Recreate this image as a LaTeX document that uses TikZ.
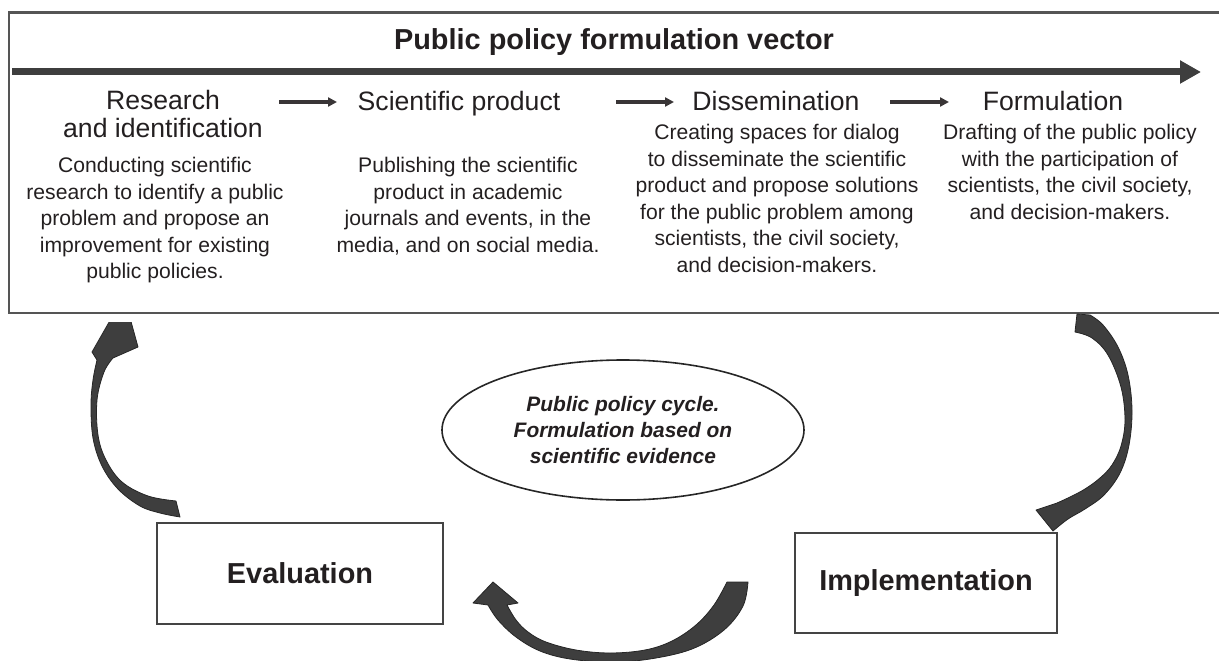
\documentclass[tikz,border=0pt]{standalone}
\usepackage{fontspec}
\setmainfont{Liberation Sans}
\usetikzlibrary{arrows.meta,shapes.geometric}

\definecolor{ink}{HTML}{231F20}
\definecolor{frameline}{HTML}{555555}
\definecolor{boxline}{HTML}{444444}
\definecolor{arrowfill}{HTML}{3E3E3E}
\definecolor{arrowedge}{HTML}{262626}

\tikzset{
  titletext/.style={font=\bfseries\fontsize{29}{34}\selectfont, text=ink,
    inner sep=0pt, anchor=base},
  headtext/.style={font=\fontsize{26.7}{28}\selectfont, text=ink,
    inner sep=0pt, align=center, anchor=north, execute at begin node=\strut},
  bodytext/.style={font=\fontsize{21.2}{26.6}\selectfont, text=ink,
    inner sep=0pt, align=center, anchor=north, execute at begin node=\strut},
  stagebox/.style={draw=boxline, line width=2bp, fill=white, text=ink,
    font=\bfseries\fontsize{29}{34}\selectfont, inner sep=0pt},
  cyclenote/.style={ellipse, draw=black!85, line width=1.6bp, text=ink,
    font=\bfseries\itshape\fontsize{21}{26.5}\selectfont, align=center,
    inner sep=0pt, minimum width=362bp, minimum height=140bp},
  vectorarrow/.style={draw=arrowfill, line width=7bp,
    -{Triangle[length=21bp,width=22bp]}},
  steparrow/.style={draw=ink!90, line width=3.2bp,
    -{Triangle[length=9bp,width=9bp]}},
  framestroke/.style={draw=frameline, line width=2.4bp},
  curvedarrow/.style={fill=arrowfill, draw=arrowedge, line width=0.8bp,
    line join=round},
}

\begin{document}
\begin{tikzpicture}[x=1bp,y=-1bp]
\useasboundingbox (0,0) rectangle (1219,661);

% frame of the formulation vector (open on the right)
\draw[framestroke] (1230,12.5) -- (9,12.5) -- (9,313) -- (1230,313);

% title and the long vector arrow
\node[titletext] (title) at (614,50) {Public policy formulation vector};
\coordinate (vstart) at (12,72);
\coordinate (vend) at (1201,72);
\draw[vectorarrow] (vstart) -- (vend);

% stage headings
\node[headtext] (h1) at (163,90.4) {Research\\and identification};
\node[headtext] (h2) at (459,90.4) {Scientific product};
\node[headtext] (h3) at (776,90.4) {Dissemination};
\node[headtext] (h4) at (1053,90.4) {Formulation};

% arrows between headings
\coordinate (a1s) at (279,102); \coordinate (a1e) at (337,102);
\coordinate (a2s) at (616,102); \coordinate (a2e) at (674,102);
\coordinate (a3s) at (890,102); \coordinate (a3e) at (949,102);
\draw[steparrow] (a1s) -- (a1e);
\draw[steparrow] (a2s) -- (a2e);
\draw[steparrow] (a3s) -- (a3e);

% stage descriptions
\node[bodytext] (b1) at (155,157.4) {Conducting scientific\\research to identify a public\\problem and propose an\\improvement for existing\\public policies.};
\node[bodytext] (b2) at (468,157.4) {Publishing the scientific\\product in academic\\journals and events, in the\\media, and on social media.};
\node[bodytext] (b3) at (777,124.4) {Creating spaces for dialog\\to disseminate the scientific\\product and propose solutions\\for the public problem among\\scientists, the civil society,\\and decision-makers.};
\node[bodytext] (b4) at (1070,124.4) {Drafting of the public policy\\with the participation of\\scientists, the civil society,\\and decision-makers.};

% central note
\node[cyclenote] (cycle) at (623,430) {Public policy cycle.\\Formulation based on\\scientific evidence};

% cycle stages
\node[stagebox, minimum width=286bp, minimum height=101bp] (eval) at (300,573.5) {Evaluation};
\node[stagebox, minimum width=262bp, minimum height=100bp] (impl) at (926,583) {Implementation};

% evaluation back to research (head tucked under the frame)
\begin{scope}
  \clip (0,322) rectangle (400,661);
  \filldraw[curvedarrow]
    plot[smooth, tension=0.6] coordinates {(180,517) (160,513) (140,506) (118,489) (102,466) (93,438) (91,405) (93,380) (97,360)}
    -- (92,352) -- (124,296) -- (138,347)
    -- plot[smooth, tension=0.6] coordinates {(113,358) (104,372) (97,400) (98,435) (106,460) (122,482) (148,496) (176,501)}
    -- cycle;
\end{scope}

% formulation down to implementation
\filldraw[curvedarrow] (1077,314)
  -- plot[smooth, tension=0.6] coordinates {(1090,315) (1103,325) (1118,347) (1128,375) (1132,410) (1129,445) (1120,473) (1104,495) (1085,509) (1068,519) (1053,531)}
  -- (1036,510)
  -- plot[smooth, tension=0.6] coordinates {(1057,503) (1070,497) (1085,489) (1100,478) (1112,465) (1121,446) (1125,420) (1121,387) (1108,355) (1092,338) (1075,332)}
  -- cycle;

% implementation over to evaluation
\filldraw[curvedarrow] (727,582)
  -- plot[smooth, tension=0.6] coordinates {(748,582) (743,606) (724,630) (692,649) (650,659) (610,662) (570,659) (540,651) (516,637) (498,620) (488,605)}
  -- (473,603) -- (493,582) -- (518,603)
  -- plot[smooth, tension=0.6] coordinates {(507,605) (516,620) (528,632) (546,642) (576,650) (610,653) (645,650) (672,641) (696,625) (714,605) (727,582)}
  -- cycle;

\end{tikzpicture}
\end{document}
